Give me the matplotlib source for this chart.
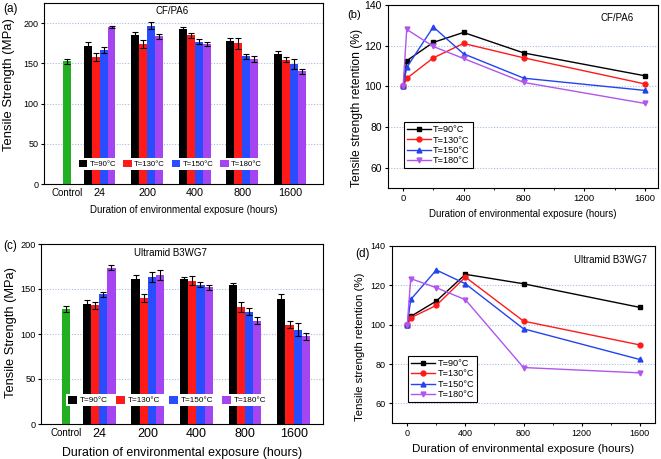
import matplotlib
matplotlib.use("Agg")
import matplotlib.pyplot as plt
import numpy as np
from matplotlib.patches import Patch
from matplotlib.ticker import MultipleLocator

plt.rcParams['font.family'] = ['Liberation Sans', 'DejaVu Sans']

# ---------------- data ----------------
durations = ["24", "200", "400", "800", "1600"]
temps = ["T=90°C", "T=130°C", "T=150°C", "T=180°C"]

# (a) CF/PA6 tensile strength (MPa)
a_control = 152.5
a_control_err = 3
a_vals = {
    "T=90°C":  [172, 185.5, 193, 178, 161],
    "T=130°C": [158, 174, 185, 175, 154.5],
    "T=150°C": [166.5, 197, 177, 159, 149.5],
    "T=180°C": [195, 183.5, 174, 155.5, 140],
}
a_err = {
    "T=90°C":  [4, 4, 2, 4, 4],
    "T=130°C": [5, 5, 3, 7, 3],
    "T=150°C": [4, 4, 3, 3, 6],
    "T=180°C": [1.5, 3, 3, 4, 3],
}

# (c) Ultramid B3WG7 tensile strength (MPa)
c_control = 128
c_control_err = 3
c_vals = {
    "T=90°C":  [133, 160.7, 160.7, 154.4, 139],
    "T=130°C": [132, 140, 159, 130, 110.4],
    "T=150°C": [144, 163.3, 155, 125, 105],
    "T=180°C": [173.7, 165.6, 152, 115, 97.4],
}
c_err = {
    "T=90°C":  [5, 5, 3, 2, 6],
    "T=130°C": [4, 4, 5, 6, 4],
    "T=150°C": [3, 6, 3, 4, 7],
    "T=180°C": [3, 6, 3, 4, 4],
}

# (b), (d) retention (%)
hours = [0, 24, 200, 400, 800, 1600]
b_ret = {
    "T=90°C":  [100, 112.6, 121.6, 126.5, 116.4, 105.2],
    "T=130°C": [100, 103.9, 114, 121.1, 114, 101.2],
    "T=150°C": [100, 109.3, 129.2, 116, 104, 98],
    "T=180°C": [100, 128, 119.6, 113.7, 101.9, 91.6],
}
d_ret = {
    "T=90°C":  [100, 104.2, 112, 125.6, 120.8, 108.8],
    "T=130°C": [100, 103.5, 109.8, 124.2, 101.8, 89.7],
    "T=150°C": [100, 112.8, 127.8, 120.8, 97.9, 82.3],
    "T=180°C": [100, 123.4, 118.8, 112.7, 78.2, 75.5],
}

bar_colors = {"T=90°C": "#000000", "T=130°C": "#ff1a1a",
              "T=150°C": "#2a4cff", "T=180°C": "#a545f2"}
line_colors = {"T=90°C": "#000000", "T=130°C": "#ff1a1a",
               "T=150°C": "#2244ee", "T=180°C": "#b055ee"}
markers = {"T=90°C": "s", "T=130°C": "o", "T=150°C": "^", "T=180°C": "v"}
green = "#22b022"
grid_col = "#a9bcdc"

W, H = 661, 459
fig = plt.figure(figsize=(W / 100, H / 100), dpi=100)


def ax_px(left, right, top, bottom):
    return fig.add_axes([left / W, 1 - bottom / H, (right - left) / W, (bottom - top) / H])


def place_ylabel(ax, dx_px, y_axes):
    bb = ax.get_position()
    ax.yaxis.set_label_coords(dx_px / (bb.width * W), y_axes)


def bar_panel(ax, control, control_err, vals, errs, ylim, xlim, title, ytick_fs, xtick_fs,
              xl_fs, yl_fs, leg_fs, leg_anchor, title_y, ctrl_fs, colsp, ylab_dx, ylab_y):
    w = 0.168
    x_groups = np.arange(1, len(durations) + 1)
    x_ctrl = 0.31
    ax.set_axisbelow(True)
    ax.yaxis.grid(True, linestyle=(0, (1, 1.5)), color=grid_col, linewidth=0.8)
    ax.bar([x_ctrl], [control], width=w, color=green, yerr=[control_err],
           error_kw=dict(ecolor='black', elinewidth=0.8, capsize=2, capthick=0.8))
    handles = []
    for i, t in enumerate(temps):
        xs = x_groups + (i - 1.5) * w
        ax.bar(xs, vals[t], width=w, color=bar_colors[t], yerr=errs[t],
               error_kw=dict(ecolor='black', elinewidth=0.8, capsize=2, capthick=0.8))
        handles.append(Patch(facecolor=bar_colors[t], edgecolor='none', label=t))
    ax.set_xlim(*xlim)
    ax.set_ylim(*ylim)
    ax.yaxis.set_major_locator(MultipleLocator(50))
    ax.set_xticks([x_ctrl] + list(x_groups))
    ax.set_xticklabels(["Control"] + durations)
    lbls = ax.get_xticklabels()
    lbls[0].set_fontsize(ctrl_fs)
    for l in lbls[1:]:
        l.set_fontsize(xtick_fs)
    ax.tick_params(axis='x', length=0, pad=3)
    ax.tick_params(axis='y', labelsize=ytick_fs, length=2.5, width=0.8, direction='out', pad=1.5)
    for s in ax.spines.values():
        s.set_linewidth(0.8)
    ax.set_xlabel("Duration of environmental exposure (hours)", fontsize=xl_fs, labelpad=5)
    ax.set_ylabel("Tensile Strength (MPa)", fontsize=yl_fs)
    place_ylabel(ax, ylab_dx, ylab_y)
    ax.text(0.46, title_y, title, transform=ax.transAxes, ha='center', va='center', fontsize=7)
    leg = ax.legend(handles=handles, loc='center', bbox_to_anchor=leg_anchor, ncol=4,
                    fontsize=leg_fs, frameon=True, fancybox=False, framealpha=1,
                    handlelength=1.1, handleheight=1.1, handletextpad=0.3,
                    columnspacing=colsp, borderpad=0.2, borderaxespad=0)
    leg.get_frame().set_edgecolor('none')
    leg.get_frame().set_facecolor('white')


def line_panel(ax, ret, xlim, title, title_xy, ytick_fs, xtick_fs, xl_fs, yl_fs, leg_fs,
               leg_anchor, ylab_dx, ylab_y):
    ax.set_axisbelow(True)
    ax.yaxis.grid(True, linestyle=(0, (1, 1.5)), color=grid_col, linewidth=0.8)
    for t in temps:
        ax.plot(hours, ret[t], color=line_colors[t], marker=markers[t], markersize=3.5,
                linewidth=1.0, label=t)
    ax.set_xlim(*xlim)
    ax.set_ylim(50, 140)
    ax.set_xticks([0, 400, 800, 1200, 1600])
    ax.xaxis.set_minor_locator(MultipleLocator(200))
    ax.set_yticks([60, 80, 100, 120, 140])
    ax.tick_params(axis='both', which='major', length=2.5, width=0.8, direction='out', pad=2)
    ax.tick_params(axis='y', labelsize=ytick_fs)
    ax.tick_params(axis='x', labelsize=xtick_fs)
    ax.tick_params(axis='x', which='minor', length=1.5, width=0.6, direction='out')
    for s in ax.spines.values():
        s.set_linewidth(0.8)
    ax.set_xlabel("Duration of environmental exposure (hours)", fontsize=xl_fs, labelpad=4)
    ax.set_ylabel("Tensile strength retention (%)", fontsize=yl_fs)
    place_ylabel(ax, ylab_dx, ylab_y)
    ax.text(title_xy[0], title_xy[1], title, transform=ax.transAxes, ha='center',
            va='center', fontsize=7)
    leg = ax.legend(loc='lower left', bbox_to_anchor=leg_anchor, fontsize=leg_fs,
                    frameon=True, fancybox=False, framealpha=1, handlelength=2.6,
                    handletextpad=0.3, borderpad=0.3, labelspacing=0.15, borderaxespad=0)
    leg.get_frame().set_edgecolor('black')
    leg.get_frame().set_linewidth(0.8)


# (a)
ax_a = ax_px(44, 323, 3, 184)
bar_panel(ax_a, a_control, a_control_err, a_vals, a_err, (0, 225), (-0.166, 5.695),
          "CF/PA6", 6.5, 7.8, 7, 9.4, 5.6, (0.453, 0.11), 0.955, 7, 0.9, -29, 0.547)
# (c)
ax_c = ax_px(41, 323, 244, 424)
bar_panel(ax_c, c_control, c_control_err, c_vals, c_err, (0, 200), (-0.198, 5.605),
          "Ultramid B3WG7", 6.6, 9, 8.9, 9.3, 5.9, (0.447, 0.133), 0.95, 7, 1.1, -24, 0.51)
# (b)
ax_b = ax_px(388, 658, 5, 188)
line_panel(ax_b, b_ret, (-100, 1688), "CF/PA6", (0.85, 0.93), 7.5, 6.8, 7, 8.7, 6.6,
           (0.059, 0.109), -25, 0.44)
# (d)
ax_d = ax_px(392, 655, 246, 423)
line_panel(ax_d, d_ret, (-105, 1705), "Ultramid B3WG7", (0.83, 0.92), 6.5, 6.5, 8.25, 8.2, 6.6,
           (0.061, 0.119), -27, 0.43)

fig.text(3 / W, 1 - 9 / H, "(a)", fontsize=8.5, ha='left', va='center')
fig.text(347 / W, 1 - 15 / H, "(b)", fontsize=8, ha='left', va='center')
fig.text(3 / W, 1 - 246 / H, "(c)", fontsize=8.5, ha='left', va='center')
fig.text(355 / W, 1 - 254 / H, "(d)", fontsize=8.5, ha='left', va='center')

fig.savefig("out.png", dpi=100)
